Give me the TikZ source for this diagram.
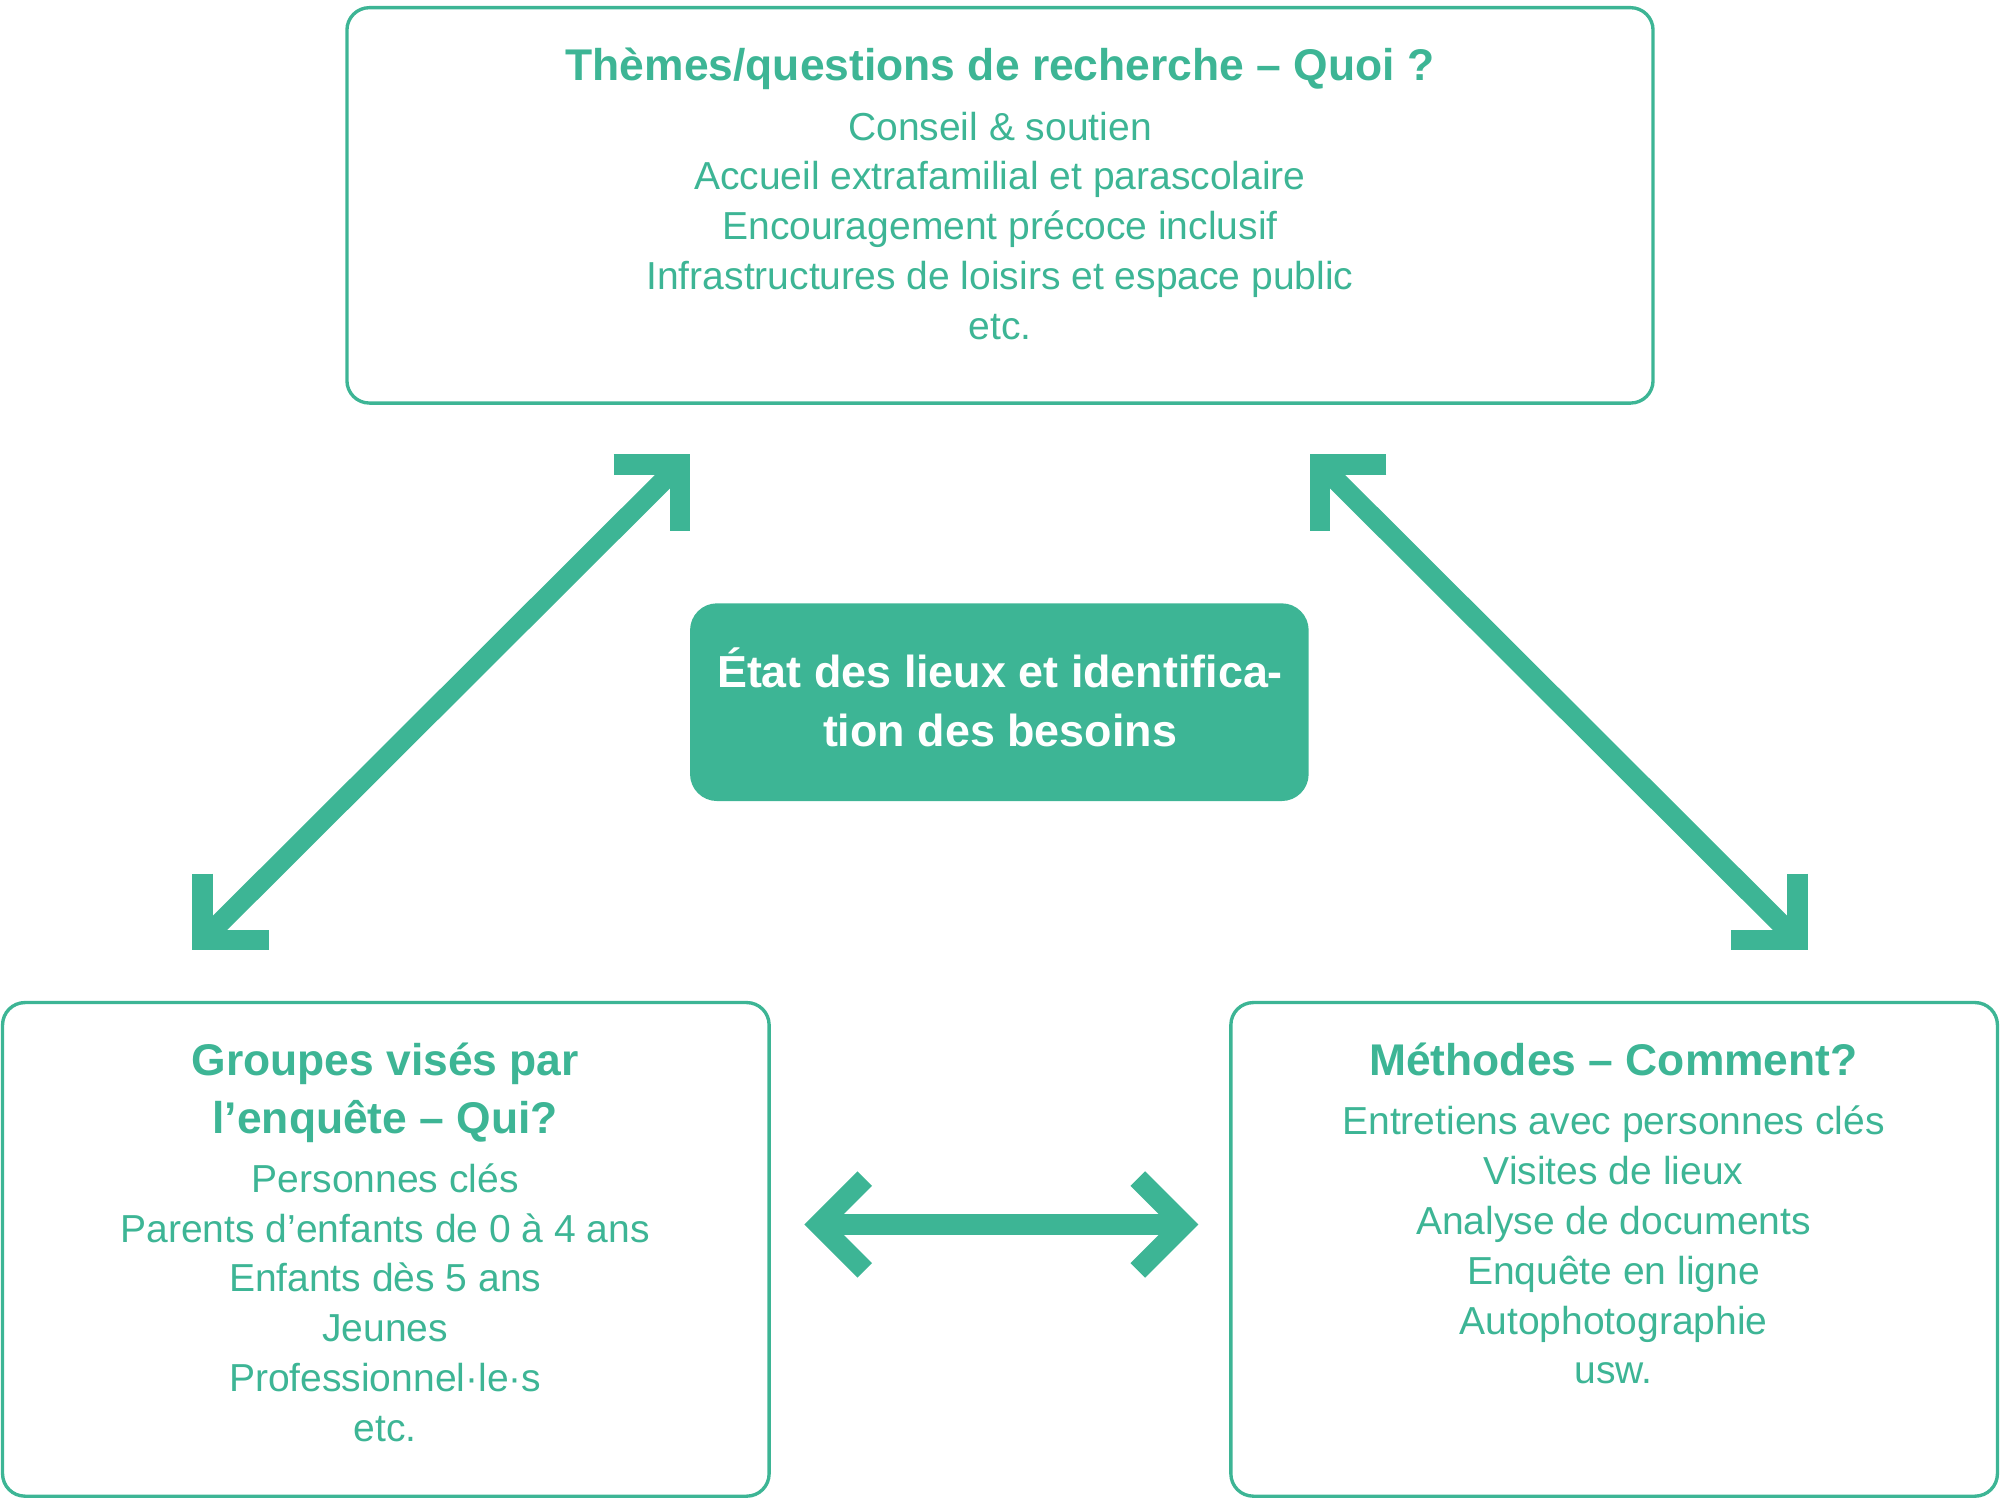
\documentclass[tikz,border=0pt]{standalone}
\usepackage{fontspec}
\setmainfont{Liberation Sans}
\definecolor{gr}{HTML}{3DB595}
\begin{document}
\begin{tikzpicture}[x=0.01cm,y=-0.01cm,
 box/.style={draw=gr,line width=0.75pt,rounded corners=5pt},
 ttl/.style={text=gr,font=\fontsize{9.9}{13.1}\selectfont\bfseries,align=center,anchor=base,inner sep=0},
 bod/.style={text=gr,font=\fontsize{8.7}{11.1}\selectfont,align=center,anchor=base,inner sep=0},
 arr/.style={draw=gr,line width=4.5pt},
 chev/.style={draw=gr,line width=4.6pt,line join=miter,line cap=butt}]
\useasboundingbox (0,0) rectangle (1568,1181);
\draw[box] (272,6) rectangle (1296,316);
\draw[box] (2,786) rectangle (603,1173);
\draw[box] (965,786) rectangle (1566,1173);
\fill[gr,rounded corners=6pt] (541,473) rectangle (1026,628);
\node[ttl] (t1) at (784,63) {Thèmes/questions de recherche – Quoi ?};
\node[bod] (b1) at (784,266) {Conseil \& soutien\\Accueil extrafamilial et parascolaire\\Encouragement précoce inclusif\\Infrastructures de loisirs et espace public\\etc.};
\node[ttl] (t2) at (302,889) {Groupes visés par\\l’enquête – Qui?};
\node[bod] (b2) at (302,1130) {Personnes clés\\Parents d’enfants de 0 à 4 ans\\Enfants dès 5 ans\\Jeunes\\Professionnel·le·s\\etc.};
\node[ttl] (t3) at (1265,843) {Méthodes – Comment?};
\node[bod] (b3) at (1265,1085) {Entretiens avec personnes clés\\Visites de lieux\\Analyse de documents\\Enquête en ligne\\Autophotographie\\usw.};
\node[ttl,text=white,font=\fontsize{10}{13.1}\selectfont\bfseries] (c) at (784,585) {État des lieux et identifica-\\tion des besoins};
% arrows
\coordinate (a1) at (527,370); \coordinate (a2) at (165,731);
\draw[arr] (a1) -- (a2);
\draw[chev] (481,364) -- (533,364) -- (533,416);
\draw[chev] (159,685) -- (159,737) -- (211,737);
\coordinate (a3) at (1041,370); \coordinate (a4) at (1403,731);
\draw[arr] (a3) -- (a4);
\draw[chev] (1087,364) -- (1035,364) -- (1035,416);
\draw[chev] (1409,685) -- (1409,737) -- (1357,737);
\coordinate (a5) at (650,960); \coordinate (a6) at (918,960);
\draw[arr] (a5) -- (a6);
\draw[chev] (678,924) -- (642,960) -- (678,996);
\draw[chev] (892,924) -- (928,960) -- (892,996);
\end{tikzpicture}
\end{document}
